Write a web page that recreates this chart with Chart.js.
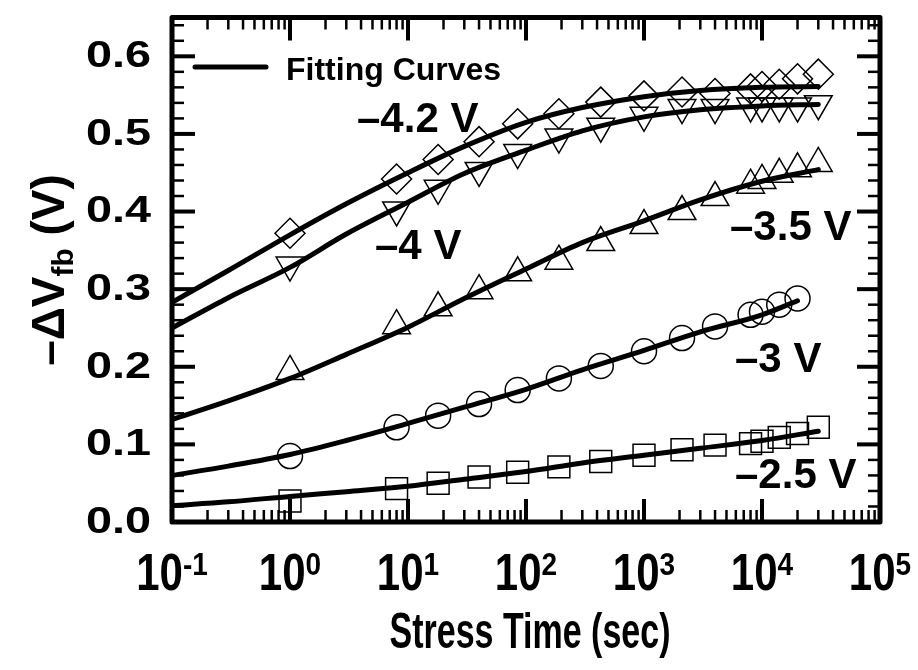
<!DOCTYPE html>
<html><head><meta charset="utf-8">
<script src="https://cdn.jsdelivr.net/npm/chart.js@4/dist/chart.umd.min.js"></script>
<style>html,body{margin:0;padding:0;background:#fff}#wrap{width:918px;height:670px}</style>
</head><body><div id="wrap"><canvas id="c" width="918" height="670"></canvas></div>
<script>
// ---- data ----
const stressTime = [1, 8, 18, 40, 85, 190, 430, 1000, 2100, 4000, 8000, 10000, 14000, 20000, 30000];
const stressTime3V = [1, 8, 18, 40, 85, 190, 430, 1000, 2100, 4000, 8000, 10000, 14000, 20000];
const meas42 = [0.372, 0.442, 0.467, 0.490, 0.513, 0.526, 0.541, 0.549, 0.554, 0.552, 0.558, 0.561, 0.564, 0.571, 0.577];
const meas40 = [0.331, 0.402, 0.430, 0.453, 0.476, 0.496, 0.510, 0.524, 0.534, 0.534, 0.536, 0.536, 0.536, 0.536, 0.539];
const meas35 = [0.194, 0.253, 0.276, 0.298, 0.321, 0.336, 0.360, 0.382, 0.400, 0.418, 0.434, 0.440, 0.448, 0.455, 0.462];
const meas30 = [0.085, 0.122, 0.137, 0.152, 0.170, 0.185, 0.201, 0.220, 0.237, 0.252, 0.267, 0.271, 0.280, 0.288];
const meas25 = [0.027, 0.043, 0.050, 0.058, 0.064, 0.071, 0.078, 0.086, 0.093, 0.099, 0.101, 0.104, 0.109, 0.114, 0.122];

const fitTime = [0.1, 0.3, 1, 3, 10, 30, 100, 300, 1000, 3000, 10000, 30000];
const fitTime3V = [0.1, 0.3, 1, 3, 10, 30, 100, 300, 1000, 3000, 10000, 20000];
const fit42 = [0.283, 0.324, 0.370, 0.410, 0.450, 0.484, 0.515, 0.534, 0.548, 0.556, 0.560, 0.561];
const fit40 = [0.250, 0.289, 0.328, 0.371, 0.412, 0.449, 0.479, 0.504, 0.522, 0.531, 0.536, 0.538];
const fit35 = [0.132, 0.156, 0.185, 0.216, 0.251, 0.288, 0.326, 0.360, 0.388, 0.415, 0.439, 0.454];
const fit30 = [0.060, 0.072, 0.087, 0.105, 0.127, 0.148, 0.171, 0.196, 0.221, 0.245, 0.267, 0.285];
const fit25 = [0.021, 0.026, 0.033, 0.039, 0.046, 0.055, 0.065, 0.076, 0.086, 0.095, 0.105, 0.117];

const xTickExponents = [-1, 0, 1, 2, 3, 4, 5];
const yTickValues = [0, 0.1, 0.2, 0.3, 0.4, 0.5, 0.6];
const yTickLabels = ['0.0', '0.1', '0.2', '0.3', '0.4', '0.5', '0.6'];
const seriesLabels = ['\u20134.2 V', '\u20134 V', '\u20133.5 V', '\u20133 V', '\u20132.5 V'];
const xTitle = 'Stress Time (sec)';
const legendText = 'Fitting Curves';

// ---- build datasets ----
const pts = (xs, ys) => xs.map((t, i) => ({x: t, y: ys[i]}));
function markerSet(label, xs, ys, style, radius, rot) {
  return {label, data: pts(xs, ys), showLine: false, pointStyle: style, pointRadius: radius,
    pointHoverRadius: radius, pointRotation: rot || 0, pointBorderWidth: 1.5, pointBorderColor: '#000',
    pointBackgroundColor: 'rgba(0,0,0,0)', borderColor: '#000', backgroundColor: 'rgba(0,0,0,0)', order: 2};
}
function fitSet(label, xs, ys) {
  return {label, data: pts(xs, ys), showLine: true, pointRadius: 0, borderColor: '#000', borderWidth: 5,
    cubicInterpolationMode: 'monotone', borderCapStyle: 'round', borderJoinStyle: 'round', order: 1, fill: false};
}
const datasets = [
  markerSet(seriesLabels[0], stressTime, meas42, 'rectRot', 15),
  markerSet(seriesLabels[1], stressTime, meas40, 'triangle', 16, 180),
  markerSet(seriesLabels[2], stressTime, meas35, 'triangle', 16),
  markerSet(seriesLabels[3], stressTime3V, meas30, 'circle', 12.5),
  markerSet(seriesLabels[4], stressTime, meas25, 'rect', 15.5),
  fitSet('fit ' + seriesLabels[0], fitTime, fit42),
  fitSet('fit ' + seriesLabels[1], fitTime, fit40),
  fitSet('fit ' + seriesLabels[2], fitTime, fit35),
  fitSet('fit ' + seriesLabels[3], fitTime3V, fit30),
  fitSet('fit ' + seriesLabels[4], fitTime, fit25),
];

const FONT = '"Liberation Sans", Arial, Helvetica, sans-serif';

function scaledText(ctx, txt, x, y, sx, sy) {
  ctx.save(); ctx.translate(x, y); ctx.scale(sx, sy); ctx.fillText(txt, 0, 0); ctx.restore();
}

const deco = {
  id: 'deco',
  afterDraw(chart) {
    const {ctx, chartArea: a} = chart;
    const x = chart.scales.x, y = chart.scales.y;
    ctx.save();
    ctx.strokeStyle = '#000'; ctx.fillStyle = '#000';
    const seg = (x1, y1, x2, y2) => { ctx.beginPath(); ctx.moveTo(x1, y1); ctx.lineTo(x2, y2); ctx.stroke(); };
    // x ticks (log, minor at 2..9)
    ctx.lineCap = 'butt';
    for (let e = -1; e <= 5; e++) {
      for (let m = 1; m <= 9; m++) {
        const v = m * Math.pow(10, e);
        if (v > 1e5 * 1.0001) break;
        const px = x.getPixelForValue(v);
        const major = m === 1;
        const len = major ? 23 : 12;
        ctx.lineWidth = major ? 4 : 2.5;
        seg(px, a.bottom, px, a.bottom - len);
        seg(px, a.top, px, a.top + len);
      }
    }
    // y ticks (minor every 0.02)
    for (let i = 0; i <= 32; i++) {
      const v = i * 0.02;
      const py = y.getPixelForValue(v);
      const major = i % 5 === 0;
      const len = major ? 23 : 12;
      ctx.lineWidth = major ? 4 : 2.5;
      seg(a.left, py, a.left + len, py);
      seg(a.right, py, a.right - len, py);
    }
    // frame
    ctx.lineWidth = 5; ctx.lineJoin = 'round';
    ctx.strokeRect(a.left, a.top, a.right - a.left, a.bottom - a.top);

    // y tick labels (wide bold digits)
    ctx.font = 'bold 36px ' + FONT;
    ctx.textAlign = 'right'; ctx.textBaseline = 'middle';
    yTickValues.forEach((v, i) => scaledText(ctx, yTickLabels[i], 151, y.getPixelForValue(v) + 1, 1.3, 1));

    // x tick labels 10^n (tall bold digits)
    ctx.textBaseline = 'alphabetic'; ctx.textAlign = 'left';
    xTickExponents.forEach(e => {
      const px = x.getPixelForValue(Math.pow(10, e));
      ctx.font = 'bold 42px ' + FONT;
      const w1 = ctx.measureText('10').width;
      ctx.font = 'bold 28px ' + FONT;
      const sup = String(e);
      const w2 = ctx.measureText(sup).width;
      const x0 = px - (w1 + w2) / 2;
      ctx.font = 'bold 42px ' + FONT;
      scaledText(ctx, '10', x0, 590, 1, 1.25);
      ctx.font = 'bold 28px ' + FONT;
      scaledText(ctx, sup, x0 + w1, 575, 1, 1.15);
    });

    // x title
    ctx.font = 'bold 40px ' + FONT;
    ctx.textAlign = 'center';
    scaledText(ctx, xTitle, (a.left + a.right) / 2 + 4, 648, 0.85, 1.25);

    // y title (rotated)
    ctx.save();
    ctx.translate(64, 270);
    ctx.rotate(-Math.PI / 2);
    ctx.textAlign = 'left';
    const p1 = '\u2013\u0394V', p2 = 'fb', p3 = ' (V)';
    ctx.font = 'bold 46px ' + FONT; const w1 = ctx.measureText(p1).width;
    ctx.font = 'bold 30px ' + FONT; const w2 = ctx.measureText(p2).width;
    ctx.font = 'bold 46px ' + FONT; const w3 = ctx.measureText(p3).width;
    let sx = -(w1 + w2 + w3) / 2;
    ctx.font = 'bold 46px ' + FONT; ctx.fillText(p1, sx, 0);
    ctx.font = 'bold 30px ' + FONT; ctx.fillText(p2, sx + w1, 9);
    ctx.font = 'bold 46px ' + FONT; ctx.fillText(p3, sx + w1 + w2, 0);
    ctx.restore();

    // legend
    ctx.lineWidth = 5; ctx.lineCap = 'round';
    seg(195, 67, 266, 67);
    ctx.font = 'bold 32px ' + FONT; ctx.textAlign = 'left';
    ctx.fillText(legendText, 286, 80);

    // series annotations
    ctx.font = 'bold 42px ' + FONT;
    const ann = [[357, 132], [375, 259], [730, 240], [735, 372], [735, 488]];
    seriesLabels.forEach((s, i) => ctx.fillText(s, ann[i][0], ann[i][1]));
    ctx.restore();
  }
};

new Chart(document.getElementById('c'), {
  type: 'scatter',
  data: {datasets},
  options: {
    responsive: false, animation: false, devicePixelRatio: 1,
    layout: {padding: {left: 172, right: 38, top: 13, bottom: 148}},
    plugins: {legend: {display: false}, tooltip: {enabled: false}},
    scales: {
      x: {type: 'logarithmic', min: 0.1, max: 100000, display: false},
      y: {type: 'linear', min: 0, max: 0.65, display: false}
    }
  },
  plugins: [deco]
});
</script></body></html>
